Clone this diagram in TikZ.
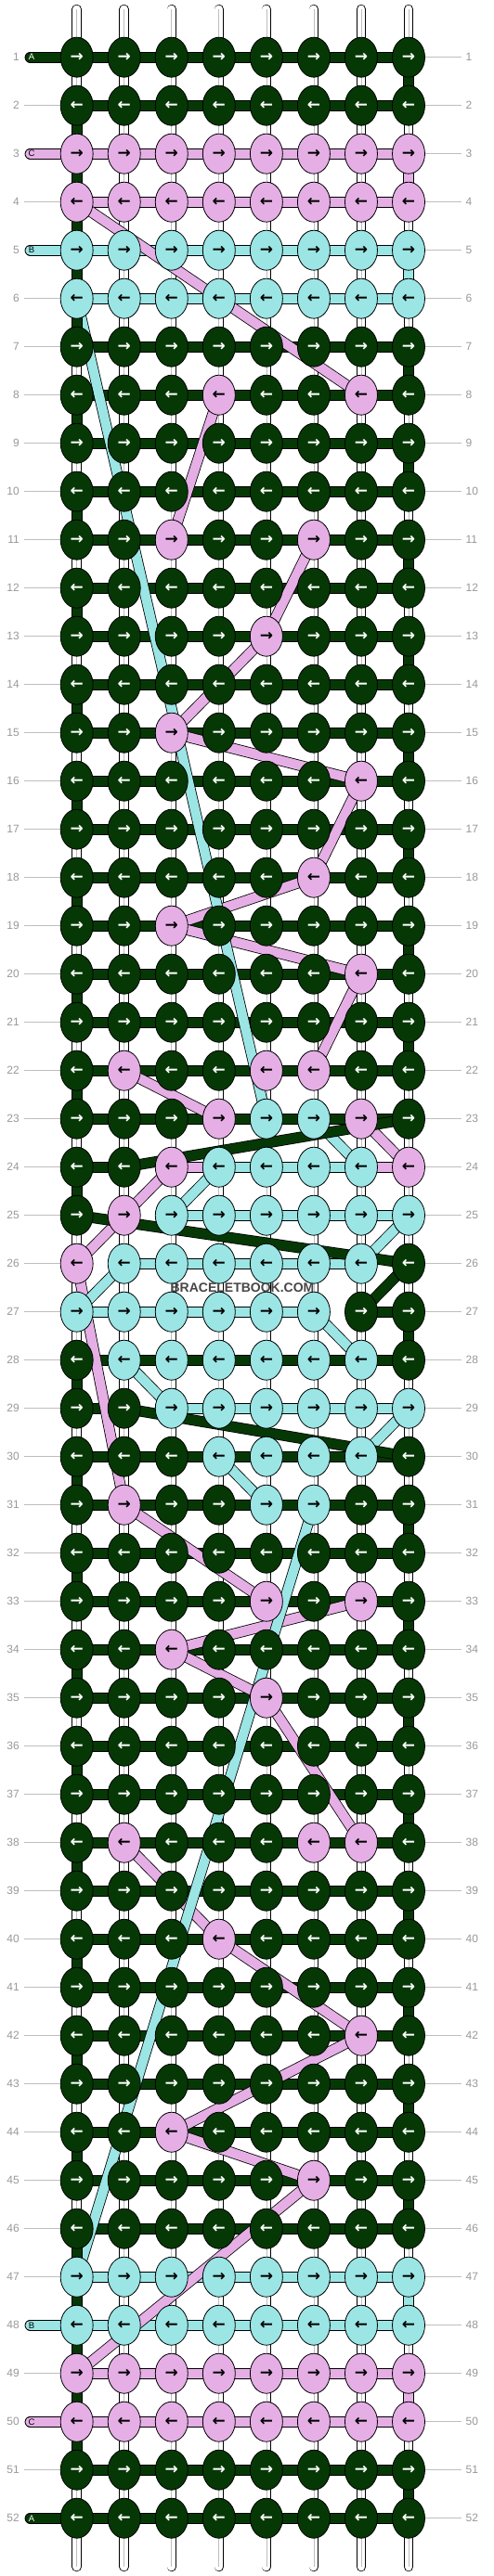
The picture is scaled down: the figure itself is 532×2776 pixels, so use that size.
\documentclass[tikz,border=0pt]{standalone}
\usepackage{fontspec}
\setmainfont{Liberation Sans}
\newfontfamily\arrowfont{DejaVu Sans}
\usetikzlibrary{shapes.geometric}
\definecolor{cA}{RGB}{6,56,6}
\definecolor{cB}{RGB}{155,229,229}
\definecolor{cC}{RGB}{229,175,229}
\definecolor{numgrey}{RGB}{153,153,153}
\definecolor{linegrey}{RGB}{190,190,190}
\definecolor{wmgrey}{RGB}{70,70,70}
\pgfdeclarelayer{strings}
\pgfdeclarelayer{flat}
\pgfdeclarelayer{float}
\pgfsetlayers{strings,flat,float,main}
\tikzset{
  knot/.style={ellipse, draw=black, line width=0.8pt, minimum width=35pt, minimum height=43pt, inner sep=0pt, font=\arrowfont\bfseries\fontsize{17}{17}\selectfont},
  kg/.style={fill=cA, text=white},
  kb/.style={fill=cB, text=black},
  kp/.style={fill=cC, text=black},
  edgeline/.style={line width=11.8pt, draw=black, line cap=round},
  fillline/.style={line width=10.2pt, draw=#1, line cap=round},
  basestring/.style={line width=10.5pt, draw=black, line cap=round},
  basefill/.style={line width=8.9pt, draw=white, line cap=round},
  basecore/.style={line width=0.7pt, draw=linegrey},
  rownum/.style={font=\fontsize{12}{12}\selectfont, text=numgrey, inner sep=0pt},
  guide/.style={line width=0.9pt, draw=linegrey},
  tag/.style={font=\fontsize{9.5}{10}\selectfont, inner sep=0pt},
  wmtext/.style={font=\bfseries\fontsize{14}{14}\selectfont, text=wmgrey, inner sep=0pt}
}
\newcommand\knotat[3]{\node[knot,k#3] (k#1-#2) at ({82.67+(#2-1)*51.05},{61.7+(#1-1)*52}) {\ifodd#1\relax →\else ←\fi};}
\def\knotrowx#1#2#3#4#5#6#7#8#9\relax{\knotat{#1}{1}{#2}\knotat{#1}{2}{#3}\knotat{#1}{3}{#4}\knotat{#1}{4}{#5}\knotat{#1}{5}{#6}\knotat{#1}{6}{#7}\knotat{#1}{7}{#8}\knotat{#1}{8}{#9}}
\newcommand\knotrow[2]{\knotrowx{#1}#2\relax}
\newcommand\seg[3]{\draw[edgeline] (#2.center) -- (#3.center); \draw[fillline=#1] (#2.center) -- (#3.center);}
\begin{document}
\begin{tikzpicture}[x=1pt,y=-1pt]
\useasboundingbox (0,0) rectangle (532,2776);
\begin{pgfonlayer}{strings}
\fill[white] (0,0) rectangle (532,2776);
\foreach \c in {1,...,8} {
  \coordinate (top\c) at ({82.67+(\c-1)*51.05},10);
  \coordinate (bot\c) at ({82.67+(\c-1)*51.05},2766);
  \draw[basestring] (top\c) -- (bot\c);
  \draw[basefill] (top\c) -- (bot\c);
  \draw[basecore] (top\c) -- (bot\c);
}
\end{pgfonlayer}
% knots
\knotrow{1}{gggggggg}
\knotrow{2}{gggggggg}
\knotrow{3}{pppppppp}
\knotrow{4}{pppppppp}
\knotrow{5}{bbbbbbbb}
\knotrow{6}{bbbbbbbb}
\knotrow{7}{gggggggg}
\knotrow{8}{gggpggpg}
\knotrow{9}{gggggggg}
\knotrow{10}{gggggggg}
\knotrow{11}{ggpggpgg}
\knotrow{12}{gggggggg}
\knotrow{13}{ggggpggg}
\knotrow{14}{gggggggg}
\knotrow{15}{ggpggggg}
\knotrow{16}{ggggggpg}
\knotrow{17}{gggggggg}
\knotrow{18}{gggggpgg}
\knotrow{19}{ggpggggg}
\knotrow{20}{ggggggpg}
\knotrow{21}{gggggggg}
\knotrow{22}{gpggppgg}
\knotrow{23}{gggpbbpg}
\knotrow{24}{ggpbbbbp}
\knotrow{25}{gpbbbbbb}
\knotrow{26}{pbbbbbbg}
\knotrow{27}{bbbbbbgg}
\knotrow{28}{gbbbbbbg}
\knotrow{29}{ggbbbbbb}
\knotrow{30}{gggbbbbg}
\knotrow{31}{gpggbbgg}
\knotrow{32}{gggggggg}
\knotrow{33}{ggggpgpg}
\knotrow{34}{ggpggggg}
\knotrow{35}{ggggpggg}
\knotrow{36}{gggggggg}
\knotrow{37}{gggggggg}
\knotrow{38}{gpgggppg}
\knotrow{39}{gggggggg}
\knotrow{40}{gggpgggg}
\knotrow{41}{gggggggg}
\knotrow{42}{ggggggpg}
\knotrow{43}{gggggggg}
\knotrow{44}{ggpggggg}
\knotrow{45}{gggggpgg}
\knotrow{46}{gggggggg}
\knotrow{47}{bbbbbbbb}
\knotrow{48}{bbbbbbbb}
\knotrow{49}{pppppppp}
\knotrow{50}{pppppppp}
\knotrow{51}{gggggggg}
\knotrow{52}{gggggggg}
% row numbers and guides
\foreach \r in {1,...,52} {
  \node[rownum, anchor=east] (ln\r) at (21,{61.7+(\r-1)*52}) {\r};
  \node[rownum, anchor=west] (rn\r) at (501.5,{61.7+(\r-1)*52}) {\r};
  \coordinate (rg\r) at (497,{61.7+(\r-1)*52});
  \begin{pgfonlayer}{strings}\draw[guide] (k\r-8.center) -- (rg\r);\end{pgfonlayer}
}
\foreach \r in {2,4,6,7,...,47} {
  \coordinate (lg\r) at (26,{61.7+(\r-1)*52});
  \begin{pgfonlayer}{strings}\draw[guide] (lg\r) -- (k\r-1.center);\end{pgfonlayer}
}
\foreach \r in {49,51} {
  \coordinate (lg\r) at (26,{61.7+(\r-1)*52});
  \begin{pgfonlayer}{strings}\draw[guide] (lg\r) -- (k\r-1.center);\end{pgfonlayer}
}
% strand ends
\coordinate (sAc) at (32.5,61.7);
\coordinate (sCc) at (32.5,165.7);
\coordinate (sBc) at (32.5,269.7);
\coordinate (eBc) at (32.5,2505.7);
\coordinate (eCc) at (32.5,2609.7);
\coordinate (eAc) at (32.5,2713.7);
\node[tag, text=white] (tA1) at (34,61.7) {A};
\node[tag, text=black] (tC1) at (34,165.7) {C};
\node[tag, text=black] (tB1) at (34,269.7) {B};
\node[tag, text=black] (tB2) at (34,2505.7) {B};
\node[tag, text=black] (tC2) at (34,2609.7) {C};
\node[tag, text=white] (tA2) at (34,2713.7) {A};
% flat (same-row) strand runs
\begin{pgfonlayer}{flat}
\seg{cC}{sCc}{k3-1}
\foreach \r/\a/\b in {3/1/8,4/8/1,8/7/4,11/3/6,22/6/2,23/4/7,24/8/3,33/5/7,38/7/2,49/1/8,50/8/1} {\seg{cC}{k\r-\a}{k\r-\b}}
\seg{cC}{k50-1}{eCc}
\seg{cB}{sBc}{k5-1}
\foreach \r/\a/\b in {5/1/8,6/8/1,23/5/6,24/7/4,25/3/8,26/7/2,27/1/6,28/7/2,29/3/8,30/7/4,31/5/6,47/1/8,48/8/1} {\seg{cB}{k\r-\a}{k\r-\b}}
\seg{cB}{k48-1}{eBc}
\seg{cA}{sAc}{k1-1}
\foreach \r in {1,2,51,52} {\seg{cA}{k\r-1}{k\r-8}}
\foreach \r in {7,...,23} {\seg{cA}{k\r-1}{k\r-8}}
\foreach \r in {31,...,46} {\seg{cA}{k\r-1}{k\r-8}}
\foreach \r/\a/\b in {24/2/1,27/7/8,28/8/1,29/1/2,30/8/1} {\seg{cA}{k\r-\a}{k\r-\b}}
\seg{cA}{k52-1}{eAc}
\end{pgfonlayer}
% floats between rows
\begin{pgfonlayer}{float}
\foreach \ra/\ca/\rb/\cb in {3/8/4/8,4/1/8/7,8/4/11/3,11/6/13/5,13/5/15/3,15/3/16/7,16/7/18/6,18/6/19/3,19/3/20/7,20/7/22/6,22/2/23/4,23/7/24/8,24/3/25/2,25/2/26/1,26/1/31/2,31/2/33/5,33/7/34/3,34/3/35/5,35/5/38/7,38/2/40/4,40/4/42/7,42/7/44/3,44/3/45/6,45/6/49/1,49/8/50/8} {\seg{cC}{k\ra-\ca}{k\rb-\cb}}
\foreach \ra/\ca/\rb/\cb in {5/8/6/8,6/1/23/5,23/6/24/7,24/4/25/3,25/8/26/7,26/2/27/1,27/6/28/7,28/2/29/3,29/8/30/7,30/4/31/5,31/6/47/1,47/8/48/8} {\seg{cB}{k\ra-\ca}{k\rb-\cb}}
\foreach \r in {1,27,51} {\pgfmathtruncatemacro\rn{\r+1}\seg{cA}{k\r-8}{k\rn-8}}
\foreach \r in {7,9,...,21} {\pgfmathtruncatemacro\rn{\r+1}\seg{cA}{k\r-8}{k\rn-8}}
\foreach \r in {31,33,...,45} {\pgfmathtruncatemacro\rn{\r+1}\seg{cA}{k\r-8}{k\rn-8}}
\foreach \r in {8,10,...,24} {\pgfmathtruncatemacro\rn{\r+1}\seg{cA}{k\r-1}{k\rn-1}}
\foreach \r in {28,30,...,44} {\pgfmathtruncatemacro\rn{\r+1}\seg{cA}{k\r-1}{k\rn-1}}
\foreach \ra/\ca/\rb/\cb in {2/1/7/1,46/1/51/1,23/8/24/2,25/1/26/8,26/8/27/7,29/2/30/8} {\seg{cA}{k\ra-\ca}{k\rb-\cb}}
\end{pgfonlayer}
\node[wmtext] (wm) at (261,1388) {BRACELETBOOK.COM};
\end{tikzpicture}
\end{document}
